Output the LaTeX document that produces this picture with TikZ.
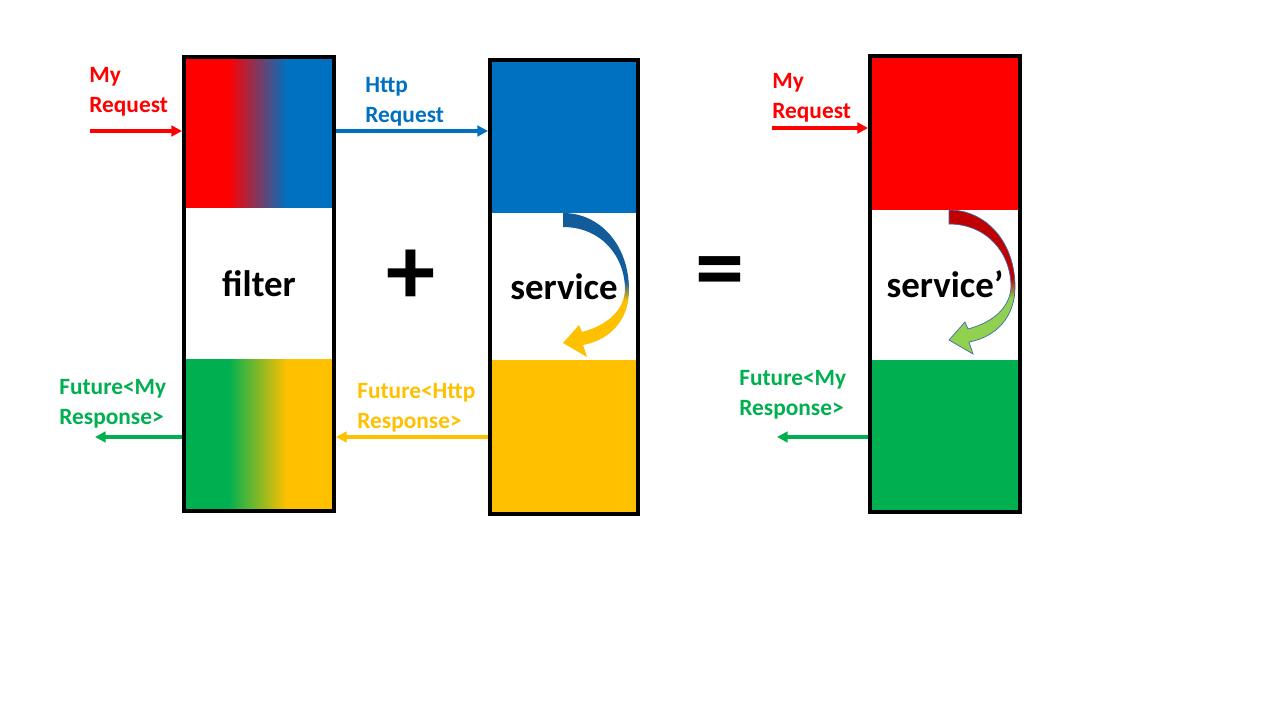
\documentclass[tikz,border=0pt]{standalone}
\usepackage{fontspec}
\setmainfont{Carlito}
\usepackage{tikz}
\usetikzlibrary{arrows.meta}
\definecolor{reqR}{RGB}{255,0,0}
\definecolor{httpB}{RGB}{0,112,192}
\definecolor{respG}{RGB}{0,176,80}
\definecolor{futY}{RGB}{255,192,0}
\definecolor{bendB}{RGB}{18,92,156}
\definecolor{bendR}{RGB}{192,0,0}
\definecolor{bendG}{RGB}{146,208,80}
\definecolor{bendE}{RGB}{65,105,170}
% the filter halves blend across the middle third
\pgfdeclarehorizontalshading{reqmix}{100bp}{color(0bp)=(reqR); color(39.5bp)=(reqR);
  color(59.5bp)=(httpB); color(100bp)=(httpB)}
\pgfdeclarehorizontalshading{respmix}{100bp}{color(0bp)=(respG); color(39.5bp)=(respG);
  color(59.5bp)=(futY); color(100bp)=(futY)}

% outline of the bent arrow, tail top at (0,0), y pointing down
\newcommand{\bendpath}{(0,0) .. controls (37,0) and (66,32) .. (66,77)
  .. controls (66,107) and (47,127) .. (20,132) -- (24,144) -- (0,130)
  -- (16,112) -- (19,119) .. controls (45,112) and (61,97) .. (62,77)
  .. controls (62,42) and (37,14) .. (0,14) -- cycle}
\newcommand{\bendarrow}[4]{%
  \begin{scope}[shift={(#1)}]
    \begin{scope}
      \clip \bendpath;
      \fill[#2] (-5,-5) rectangle (75,68);
      \shade[top color=#2, bottom color=#3] (-5,68) rectangle (75,88);
      \fill[#3] (-5,88) rectangle (75,150);
    \end{scope}
    \path[#4] \bendpath;
  \end{scope}}

\begin{document}
\begin{tikzpicture}[
  x=0.02cm, y=-0.02cm,
  stack/.style={draw=black, line width=0.08cm, inner sep=0pt,
    minimum width=3cm, minimum height=9.1cm,
    font=\fontsize{21}{25}\selectfont\bfseries},
  lbl/.style={anchor=north west, align=left, inner sep=0pt,
    font=\fontsize{13.3}{17}\selectfont\bfseries},
  flow/.style={line width=0.07cm, -{Triangle[length=6pt,width=6pt]}},
  sign/.style={font=\fontsize{56}{56}\selectfont\bfseries, inner sep=0pt}
]
\useasboundingbox (0,0) rectangle (1280,720);

% filter bands
\shade[shading=reqmix] (186,58) rectangle (332,207);
\shade[shading=respmix] (186,359) rectangle (332,509);
% service bands
\fill[httpB] (490,60) rectangle (638,213);
\fill[futY] (490,360) rectangle (638,514);
% service' bands
\fill[reqR] (870,56) rectangle (1020,210);
\fill[respG] (870,360) rectangle (1020,512);

\bendarrow{563,213}{bendB}{futY}{draw=none}
\bendarrow{949,210}{bendR}{bendG}{draw=bendE, line width=0.4pt}

\node[stack] (filter) at (259,284) {filter};
\node[stack, minimum width=2.96cm, minimum height=9.08cm] (service) at (564,287) {service};
\node[stack, minimum height=9.12cm] (servicep) at (945,284) {service’};

\node[sign] (plus) at (411,277) {+};
\node[sign] (equals) at (720,279) {=};

\node[lbl, text=reqR] (myreq) at (89,67) {My\\Request};
\node[lbl, text=httpB] (httpreq) at (365,77) {Http\\Request};
\node[lbl, text=respG] (myresp) at (59,379) {Future<My\\Response>};
\node[lbl, text=futY] (httpresp) at (357,383) {Future<Http\\Response>};
\node[lbl, text=reqR] (myreq2) at (772,73) {My\\Request};
\node[lbl, text=respG] (myresp2) at (739,370) {Future<My\\Response>};

\coordinate (reqin) at (90,131);
\coordinate (respout) at (95,437);
\coordinate (reqin2) at (772,128);
\coordinate (respout2) at (777,437);

\draw[flow, reqR] (reqin) -- (reqin -| filter.west);
\draw[flow, httpB] (filter.east |- reqin) -- (service.west |- reqin);
\draw[flow, futY] (service.west |- respout) -- (filter.east |- respout);
\draw[flow, respG] (filter.west |- respout) -- (respout);
\draw[flow, reqR] (reqin2) -- (reqin2 -| servicep.west);
\draw[flow, respG] (servicep.west |- respout2) -- (respout2);
\end{tikzpicture}
\end{document}
